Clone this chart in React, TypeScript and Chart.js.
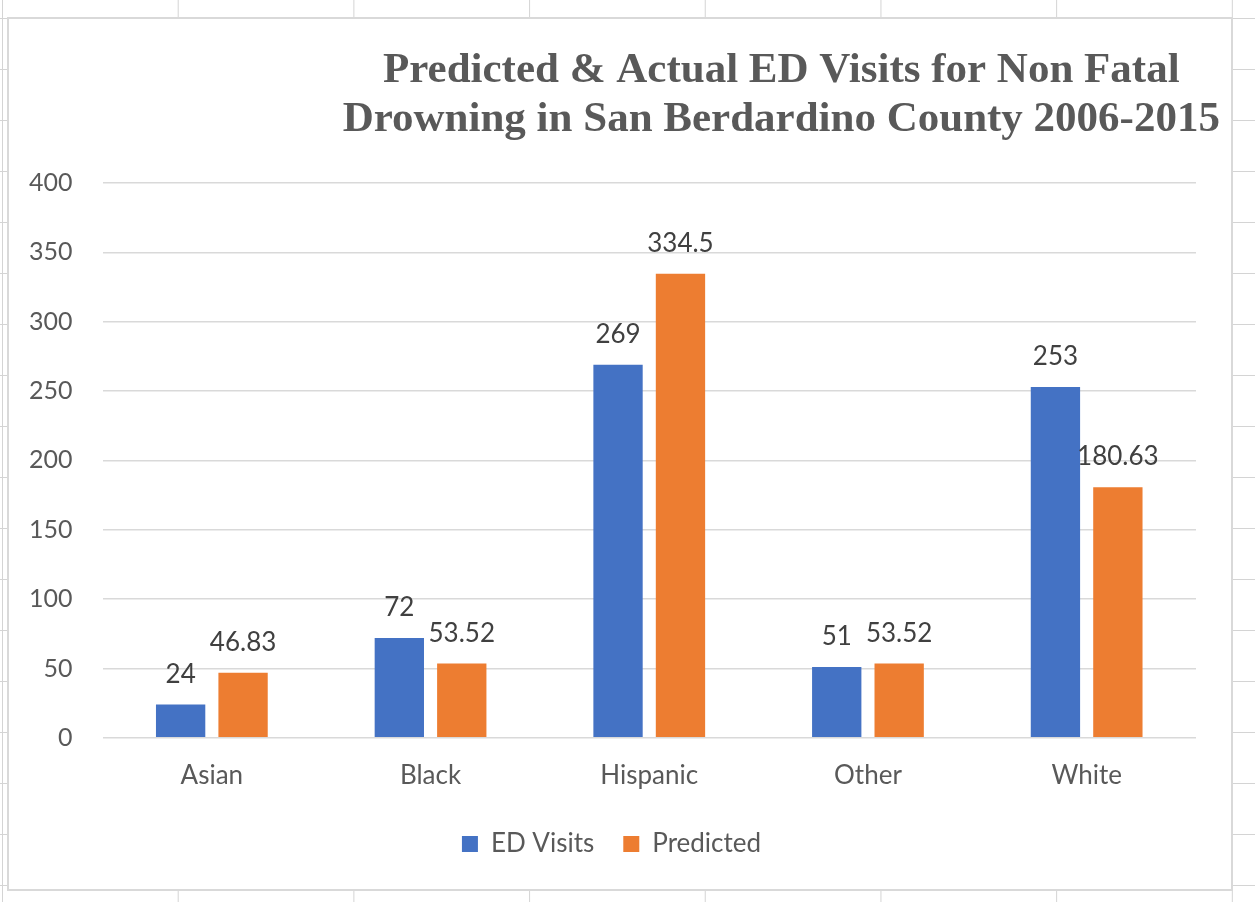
import React, { useEffect, useRef } from "react";
import { Chart, registerables } from "chart.js";

Chart.register(...registerables);

const categories = ["Asian", "Black", "Hispanic", "Other", "White"];
const edVisits = [24, 72, 269, 51, 253];
const predicted = [46.83, 53.52, 334.5, 53.52, 180.63];
const seriesNames = ["ED Visits", "Predicted"];
const titleLines = [
  "Predicted & Actual ED Visits for Non Fatal",
  "Drowning in San Berdardino County 2006-2015",
];
const yMin = 0;
const yMax = 400;
const yStep = 50;

const FONT = "Lato, 'Open Sans', sans-serif";

const valueLabels = {
  id: "valueLabels",
  afterDatasetsDraw(chart: any) {
    const ctx = chart.ctx;
    ctx.save();
    ctx.font = `26px ${FONT}`;
    ctx.fillStyle = "#404040";
    ctx.textAlign = "center";
    ctx.textBaseline = "alphabetic";
    chart.data.datasets.forEach((ds: any, di: number) => {
      const meta = chart.getDatasetMeta(di);
      meta.data.forEach((el: any, i: number) => {
        ctx.fillText(String(ds.data[i]), el.x, el.y - 22);
      });
    });
    ctx.restore();
  },
};

const offsetTitle = {
  id: "offsetTitle",
  afterDraw(chart: any) {
    const ctx = chart.ctx;
    ctx.save();
    ctx.font = "bold 43px 'Liberation Serif', 'Times New Roman', serif";
    ctx.fillStyle = "#595959";
    ctx.textAlign = "center";
    ctx.textBaseline = "alphabetic";
    const cx = chart.width * 0.632;
    titleLines.forEach((t, i) => ctx.fillText(t, cx, 63 + i * 49));
    ctx.restore();
  },
};

export default function App() {
  const ref = useRef<HTMLCanvasElement | null>(null);

  useEffect(() => {
    if (!ref.current) return;
    const chart = new Chart(ref.current, {
      type: "bar",
      data: {
        labels: categories,
        datasets: [
          {
            label: seriesNames[0],
            data: edVisits,
            backgroundColor: "#4472C4",
            borderWidth: 0,
            categoryPercentage: 0.571,
            barPercentage: 0.79,
          },
          {
            label: seriesNames[1],
            data: predicted,
            backgroundColor: "#ED7D31",
            borderWidth: 0,
            categoryPercentage: 0.571,
            barPercentage: 0.79,
          },
        ],
      },
      options: {
        responsive: false,
        animation: false,
        devicePixelRatio: 1,
        layout: { autoPadding: false, padding: { top: 164, left: 18, right: 35, bottom: 22 } },
        scales: {
          x: {
            grid: { display: false, drawTicks: false },
            border: { display: false },
            ticks: { color: "#595959", font: { family: FONT, size: 26 }, padding: 22 },
            afterFit: (scale: any) => {
              scale.height -= 11;
            },
          },
          y: {
            min: yMin,
            max: yMax,
            ticks: {
              stepSize: yStep,
              color: "#595959",
              font: { family: FONT, size: 25 },
              padding: 30,
            },
            grid: { color: "#d9d9d9", lineWidth: 1.5, drawTicks: false },
            border: { display: false },
            afterFit: (scale: any) => {
              scale.width -= 28;
            },
          },
        },
        plugins: {
          legend: {
            position: "bottom",
            labels: {
              boxWidth: 16,
              boxHeight: 16,
              padding: 29,
              color: "#595959",
              font: { family: FONT, size: 26 },
            },
          },
          title: { display: false },
          tooltip: { enabled: false },
        },
      },
      plugins: [valueLabels, offsetTitle],
    } as any);
    return () => chart.destroy();
  }, []);

  return (
    <div
      style={{
        position: "fixed",
        left: 0,
        top: 0,
        width: 1255,
        height: 902,
        background: "#ffffff",
        backgroundImage:
          "linear-gradient(to right, #d4d4d4 1px, transparent 1px), linear-gradient(to bottom, #d4d4d4 1px, transparent 1px)",
        backgroundSize: "175.7px 51px",
        backgroundPosition: "2px 18px",
      }}
    >
      <div
        style={{
          position: "absolute",
          left: 7,
          top: 17,
          width: 1226,
          height: 874,
          boxSizing: "border-box",
          border: "2px solid #d9d9d9",
          background: "#ffffff",
        }}
      >
        <canvas ref={ref} width={1222} height={870} style={{ display: "block", width: 1222, height: 870 }} />
      </div>
    </div>
  );
}
